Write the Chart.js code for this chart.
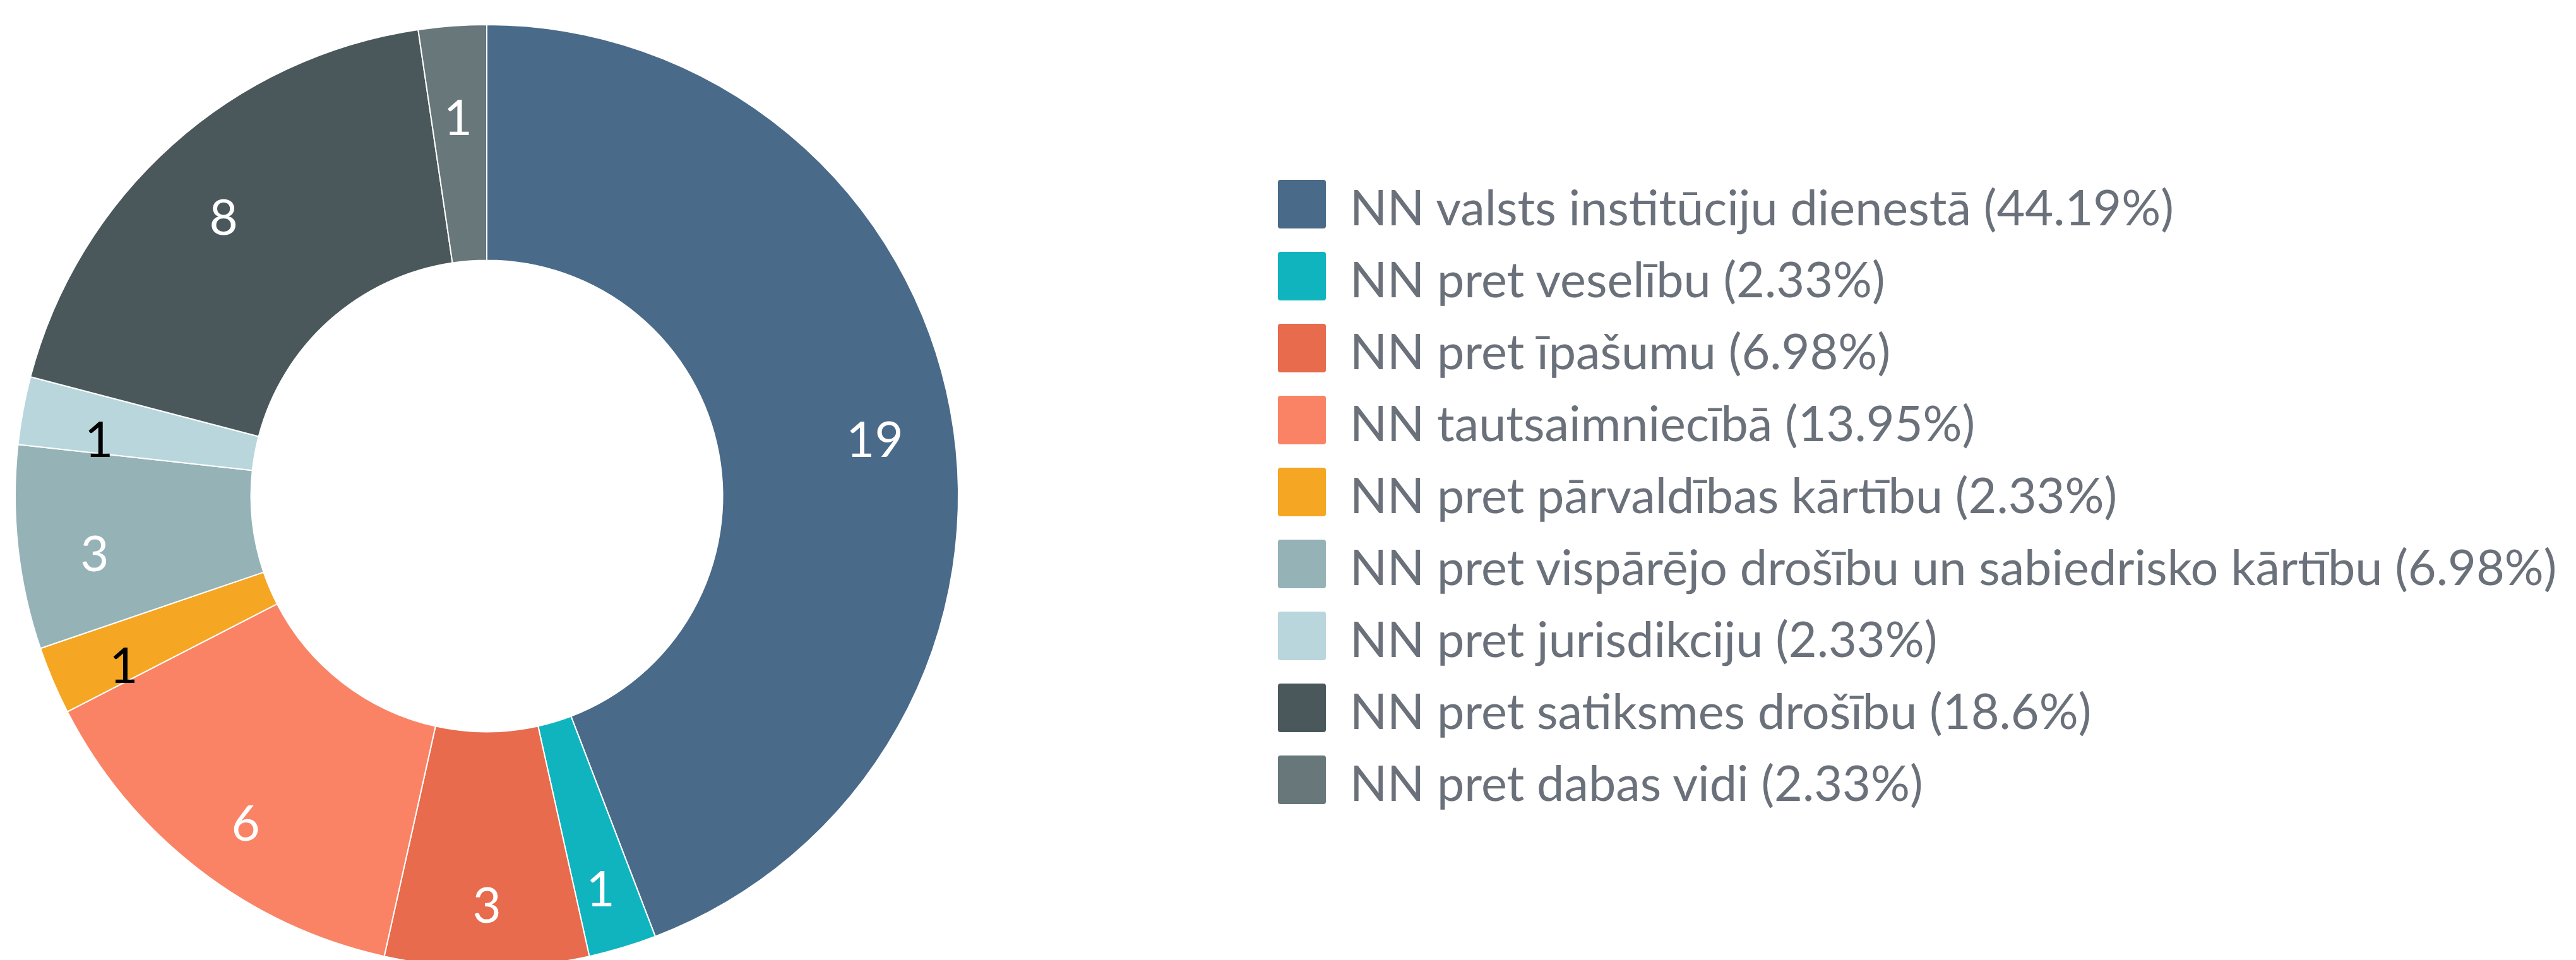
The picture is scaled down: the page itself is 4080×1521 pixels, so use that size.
<!DOCTYPE html>
<html>
<head>
<meta charset="utf-8">
<title>NN</title>
<script src="https://cdn.jsdelivr.net/npm/chart.js@4/dist/chart.umd.min.js"></script>
<style>
    html, body {
        margin: 0;
        padding: 0;
        background: #fff;
        width: 4080px;
        height: 1521px;
        overflow: hidden;
    }
    #pieCanvas {
        position: absolute;
        left: 0;
        top: 0;
    }
    #legend-container {
        position: absolute;
        left: 2024px;
        top: 285px;
    }
    #legend-container ul {
        list-style: none;
        margin: 0;
        padding: 0;
    }
    #legend-container li {
        display: flex;
        align-items: center;
        height: 77px;
        margin-bottom: 37px;
        font-family: Lato, sans-serif;
        font-size: 77.4px;
        color: #6b717a;
        white-space: nowrap;
    }
    #legend-container li span.box {
        display: inline-block;
        width: 76px;
        height: 77px;
        border-radius: 4px;
        margin-right: 38px;
        flex: none;
    }
    #legend-container li span.txt {
        padding-top: 6px;
    }
</style>
</head>
<body>
<canvas id="pieCanvas" width="1542" height="1572"></canvas>
<div id="legend-container"></div>

<script>
// Kategorijas
const categories = [
    'NN valsts institūciju dienestā',
    'NN pret veselību',
    'NN pret īpašumu',
    'NN tautsaimniecībā',
    'NN pret pārvaldības kārtību',
    'NN pret vispārējo drošību un sabiedrisko kārtību',
    'NN pret jurisdikciju',
    'NN pret satiksmes drošību',
    'NN pret dabas vidi'
];

// Skaits katrā kategorijā
const counts = [19, 1, 3, 6, 1, 3, 1, 8, 1];

// Krāsas
const sliceColors = ['#4a6a8a', '#10b4be', '#e76b4c', '#fa8366', '#f5a623', '#95b2b7', '#b8d6dc', '#4a585c', '#687779'];
const labelColors = ['#fff', '#fff', '#fff', '#fff', '#000', '#fff', '#000', '#fff', '#fff'];

// Procenti legendai
let total = counts.reduce((a, b) => a + b, 0);

function percentText(v) {
    return Math.round(v / total * 10000) / 100 + '%';
}

// Skaitli uz segmentiem
const sliceLabels = {
    id: 'sliceLabels',
    afterDatasetsDraw(chart) {
        const ctx = chart.ctx;
        const meta = chart.getDatasetMeta(0);
        ctx.save();
        ctx.font = '78px Lato';
        ctx.textAlign = 'center';
        ctx.textBaseline = 'middle';
        meta.data.forEach((arc, i) => {
            const p = arc.getProps(['x', 'y', 'startAngle', 'endAngle', 'innerRadius', 'outerRadius']);
            const mid = (p.startAngle + p.endAngle) / 2;
            const r = p.innerRadius + (p.outerRadius - p.innerRadius) * 0.673;
            ctx.fillStyle = labelColors[i];
            ctx.fillText(String(counts[i]), p.x + Math.cos(mid) * r, p.y + Math.sin(mid) * r + 26);
        });
        ctx.restore();
    }
};

// HTML legenda
const htmlLegend = {
    id: 'htmlLegend',
    afterUpdate(chart) {
        const box = document.getElementById('legend-container');
        box.innerHTML = '';
        const ul = document.createElement('ul');
        const items = chart.options.plugins.legend.labels.generateLabels(chart);
        items.forEach((item, i) => {
            const li = document.createElement('li');
            const sw = document.createElement('span');
            sw.className = 'box';
            sw.style.background = item.fillStyle;
            const txt = document.createElement('span');
            txt.className = 'txt';
            txt.textContent = item.text + ' (' + percentText(counts[i]) + ')';
            li.appendChild(sw);
            li.appendChild(txt);
            ul.appendChild(li);
        });
        box.appendChild(ul);
    }
};

function drawChart() {
    let ctx = document.getElementById('pieCanvas');
    new Chart(ctx, {
        type: 'doughnut',
        data: {
            labels: categories,
            datasets: [{
                data: counts,
                backgroundColor: sliceColors,
                borderColor: '#ffffff',
                borderWidth: 2,
                hoverOffset: 0
            }]
        },
        options: {
            responsive: false,
            animation: false,
            devicePixelRatio: 1,
            cutout: '50%',
            layout: {
                padding: { left: 23, right: 23, top: 38, bottom: 38 }
            },
            plugins: {
                legend: { display: false },
                tooltip: { enabled: false }
            }
        },
        plugins: [sliceLabels, htmlLegend]
    });
}

document.addEventListener('DOMContentLoaded', drawChart);
</script>
</body>
</html>
